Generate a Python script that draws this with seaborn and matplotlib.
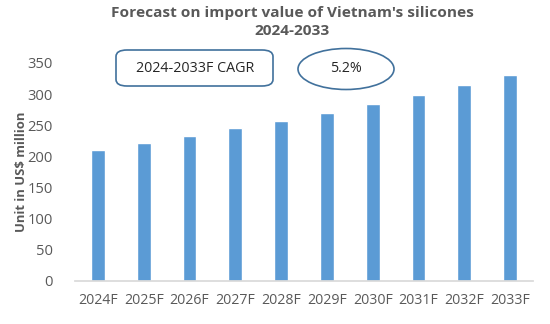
import matplotlib
matplotlib.use("Agg")
import matplotlib.pyplot as plt
import seaborn as sns
import pandas as pd
from matplotlib.patches import FancyBboxPatch, Ellipse

years = ["2024F", "2025F", "2026F", "2027F", "2028F", "2029F", "2030F", "2031F", "2032F", "2033F"]
values = [210, 221, 232, 245, 257, 270, 284, 299, 314, 331]
yticks = [0, 50, 100, 150, 200, 250, 300, 350]
title = "Forecast on import value of Vietnam's silicones\n2024-2033"
ylabel = "Unit in US$ million"
cagr_label = "2024-2033F CAGR"
cagr_value = "5.2%"

sns.set_theme(style="white")
plt.rcParams['font.family'] = ['Open Sans', 'DejaVu Sans']

df = pd.DataFrame({"year": years, "value": values})
fig = plt.figure(figsize=(5.5, 3.24), dpi=100)
ax = fig.add_axes([75/550, 1-281/324, (533-75)/550, (281-63)/324])
sns.barplot(data=df, x="year", y="value", color="#5B9BD5", width=0.3, saturation=1, ax=ax)
ax.set_ylim(0, 350)
ax.set_yticks(yticks)
ax.set_xlim(-0.5, len(years)-0.5)
grey = "#595959"
ax.tick_params(axis="x", colors=grey, labelsize=10.2, length=0, pad=9)
ax.tick_params(axis="y", colors=grey, labelsize=10.6, length=0, pad=16)
for s in ["top", "right", "left"]:
    ax.spines[s].set_visible(False)
ax.spines["bottom"].set_color("#D9D9D9")
ax.set_xlabel("")
ax.set_ylabel(ylabel, color=grey, fontsize=9.4, fontweight="bold")
ax.yaxis.set_label_coords((22 - 75) / 458, 0.5)
ax.yaxis.label.set_va("center")
fig.text(292/550, 1-22/324, title, ha="center", va="center", color=grey,
         fontsize=11.1, fontweight="bold", linespacing=1.35)

edge = "#41719C"
box = FancyBboxPatch((116/550, 1-86/324), (273-116)/550, (86-50)/324,
                     boxstyle="round,pad=0,rounding_size=0.02", transform=fig.transFigure,
                     facecolor="white", edgecolor=edge, linewidth=1.2)
fig.patches.append(box)
fig.text(195/550, 1-68/324, cagr_label, ha="center", va="center", fontsize=10.3, color="#262626")
ell = Ellipse((346/550, 1-69/324), (394-298)/550, (90-49)/324, transform=fig.transFigure,
              facecolor="white", edgecolor=edge, linewidth=1.2)
fig.patches.append(ell)
fig.text(346/550, 1-68/324, cagr_value, ha="center", va="center", fontsize=10.3, color="#262626")

fig.savefig("out.png", dpi=100)
